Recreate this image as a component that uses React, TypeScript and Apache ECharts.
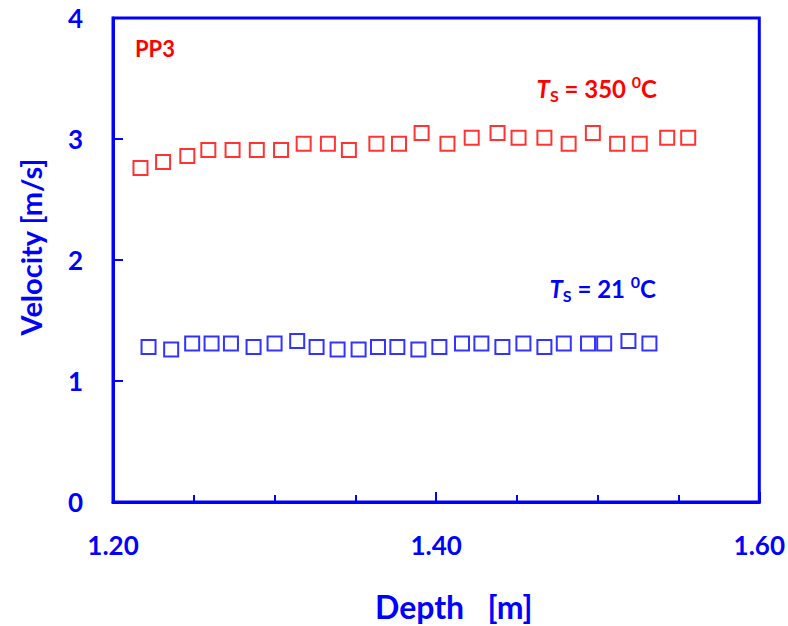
import React, { useEffect, useRef } from "react";
import * as echarts from "echarts";

const hotDepth = [1.217, 1.231, 1.246, 1.259, 1.274, 1.289, 1.304, 1.318, 1.333, 1.346, 1.363, 1.377, 1.391, 1.407, 1.422, 1.438, 1.451, 1.467, 1.482, 1.497, 1.512, 1.526, 1.543, 1.556];
const hotVelocity = [2.76, 2.81, 2.86, 2.91, 2.91, 2.91, 2.91, 2.96, 2.96, 2.91, 2.96, 2.96, 3.05, 2.96, 3.01, 3.05, 3.01, 3.01, 2.96, 3.05, 2.96, 2.96, 3.01, 3.01];
const coldDepth = [1.222, 1.236, 1.249, 1.261, 1.273, 1.287, 1.300, 1.314, 1.326, 1.339, 1.352, 1.364, 1.376, 1.389, 1.402, 1.416, 1.428, 1.441, 1.454, 1.467, 1.479, 1.494, 1.504, 1.519, 1.532];
const coldVelocity = [1.28, 1.26, 1.31, 1.31, 1.31, 1.28, 1.31, 1.33, 1.28, 1.26, 1.26, 1.28, 1.28, 1.26, 1.28, 1.31, 1.31, 1.28, 1.31, 1.28, 1.31, 1.31, 1.31, 1.33, 1.31];

const BLUE = "#0000ff";
const RED = "#ff0000";
const FONT = "Lato";

export default function App() {
  const ref = useRef<HTMLDivElement>(null);
  useEffect(() => {
    if (!ref.current) return;
    const chart = echarts.init(ref.current, null, { renderer: "svg" });
    const richStyle = (color: string) => ({
      i: { fontFamily: FONT, fontWeight: "bold", fontStyle: "italic", fontSize: 24, fill: color, lineHeight: 34, verticalAlign: "middle" },
      sub: { fontFamily: FONT, fontWeight: "bold", fontSize: 16, fill: color, lineHeight: 34, verticalAlign: "bottom", padding: [0, 0, 2, 0] },
      n: { fontFamily: FONT, fontWeight: "bold", fontSize: 24, fill: color, lineHeight: 34, verticalAlign: "middle" },
      sup: { fontFamily: FONT, fontWeight: "bold", fontSize: 16, fill: color, lineHeight: 34, verticalAlign: "top", padding: [2, 0, 0, 0] },
    });
    chart.setOption({
      animation: false,
      backgroundColor: "#fff",
      grid: { left: 113, right: 28, top: 18, bottom: 124, show: true, borderColor: BLUE, borderWidth: 3, backgroundColor: "transparent" },
      xAxis: {
        type: "value",
        min: 1.2,
        max: 1.6,
        interval: 0.2,
        axisLine: { show: true, lineStyle: { color: BLUE, width: 3 } },
        axisTick: { show: true, inside: true, length: 10, lineStyle: { color: BLUE, width: 2 } },
        minorTick: { show: true, splitNumber: 4, length: 7, lineStyle: { color: BLUE, width: 2 } },
        splitLine: { show: false },
        axisLabel: { color: BLUE, fontFamily: FONT, fontWeight: "bold", fontSize: 26, margin: 30, formatter: (v: number) => v.toFixed(2) },
      },
      yAxis: {
        type: "value",
        min: 0,
        max: 4,
        interval: 1,
        axisLine: { show: true, lineStyle: { color: BLUE, width: 3 } },
        axisTick: { show: true, inside: true, length: 10, lineStyle: { color: BLUE, width: 2 } },
        splitLine: { show: false },
        axisLabel: { color: BLUE, fontFamily: FONT, fontWeight: "bold", fontSize: 26, margin: 30 },
      },
      series: [
        {
          type: "scatter",
          name: "Ts = 350 °C",
          data: hotDepth.map((d, i) => [d, hotVelocity[i]]),
          symbol: "rect",
          symbolSize: 14,
          itemStyle: { color: "#fff", borderColor: RED, borderWidth: 2 },
        },
        {
          type: "scatter",
          name: "Ts = 21 °C",
          data: coldDepth.map((d, i) => [d, coldVelocity[i]]),
          symbol: "rect",
          symbolSize: 14,
          itemStyle: { color: "#fff", borderColor: BLUE, borderWidth: 2 },
        },
      ],
      graphic: [
        {
          type: "text",
          x: 375,
          y: 606,
          style: { text: "Depth   [m]", fill: BLUE, font: `bold 32px ${FONT}`, textAlign: "left", textVerticalAlign: "middle" },
        },
        {
          type: "text",
          x: 30,
          y: 247,
          rotation: Math.PI / 2,
          style: { text: "Velocity [m/s]", fill: BLUE, font: `bold 29px ${FONT}`, textAlign: "center", textVerticalAlign: "middle" },
        },
        {
          type: "text",
          x: 135,
          y: 48,
          style: { text: "PP3", fill: RED, font: `bold 22px ${FONT}`, textAlign: "left", textVerticalAlign: "middle" },
        },
        {
          type: "text",
          x: 657,
          y: 88,
          style: {
            text: "{i|T}{sub|S}{n| = 350 }{sup|0}{n|C}",
            rich: richStyle(RED),
            textAlign: "right",
            textVerticalAlign: "middle",
          },
        },
        {
          type: "text",
          x: 656,
          y: 288,
          style: {
            text: "{i|T}{sub|S}{n| = 21 }{sup|0}{n|C}",
            rich: richStyle(BLUE),
            textAlign: "right",
            textVerticalAlign: "middle",
          },
        },
      ],
    });
    return () => chart.dispose();
  }, []);
  return <div ref={ref} style={{ position: "fixed", left: 0, top: 0, width: 788, height: 626 }} />;
}
